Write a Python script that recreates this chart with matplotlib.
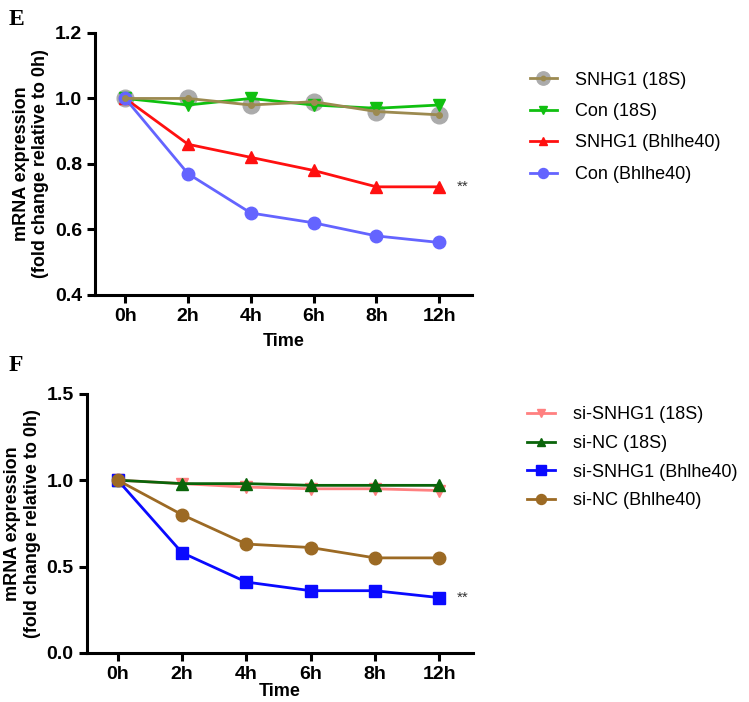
import matplotlib
matplotlib.use("Agg")
import matplotlib.pyplot as plt

plt.rcParams['font.family'] = ['Liberation Sans', 'DejaVu Sans']

# Time points
times = ["0h", "2h", "4h", "6h", "8h", "12h"]

# Panel E values
e_snhg1_18s = [1.00, 1.00, 0.98, 0.99, 0.96, 0.95]
e_con_18s = [1.00, 0.98, 1.00, 0.98, 0.97, 0.98]
e_snhg1_bhlhe40 = [1.00, 0.86, 0.82, 0.78, 0.73, 0.73]
e_con_bhlhe40 = [1.00, 0.77, 0.65, 0.62, 0.58, 0.56]

# Panel F values
f_sisnhg1_18s = [1.00, 0.98, 0.96, 0.95, 0.95, 0.94]
f_sinc_18s = [1.00, 0.98, 0.98, 0.97, 0.97, 0.97]
f_sisnhg1_bhlhe40 = [1.00, 0.58, 0.41, 0.36, 0.36, 0.32]
f_sinc_bhlhe40 = [1.00, 0.80, 0.63, 0.61, 0.55, 0.55]

fig = plt.figure(figsize=(7.49, 7.02), dpi=100)
x = list(range(len(times)))


def style_axes(ax, ylim, yticks):
    ax.set_xlim(-0.48, 5.52)
    ax.set_ylim(*ylim)
    ax.set_yticks(yticks)
    ax.set_yticklabels([f"{t:.1f}" for t in yticks])
    ax.set_xticks(x)
    ax.set_xticklabels(times)
    for s in ["top", "right"]:
        ax.spines[s].set_visible(False)
    for s in ["left", "bottom"]:
        ax.spines[s].set_linewidth(2.2)
    ax.tick_params(width=2.2, length=6, labelsize=14)
    for lab in ax.get_xticklabels() + ax.get_yticklabels():
        lab.set_fontweight("bold")
    ax.set_ylabel("mRNA expression\n(fold change relative to 0h)",
                  fontsize=13, fontweight="bold", labelpad=4)


# Panel E
ax1 = fig.add_axes([0.127, 0.580, 0.503, 0.373])
g_mk, = ax1.plot(x, e_snhg1_18s, ls="none", marker="o", ms=12,
                 mfc="#ABABAB", mec="#ABABAB", zorder=2)
g_ln, = ax1.plot(x, e_snhg1_18s, color="#9C8A50", lw=2, marker="o", ms=4,
                 mfc="#9C8A50", mec="#9C8A50", zorder=3)
h2, = ax1.plot(x, e_con_18s, color="#10C010", lw=2, marker="v", ms=8)
h3, = ax1.plot(x, e_snhg1_bhlhe40, color="#FF1010", lw=2, marker="^", ms=8)
h4, = ax1.plot(x, e_con_bhlhe40, color="#6464FF", lw=2, marker="o", ms=9)
style_axes(ax1, (0.4, 1.2), [0.4, 0.6, 0.8, 1.0, 1.2])
ax1.set_xlabel("Time", fontsize=13, fontweight="bold", labelpad=6)
ax1.text(5.28, e_snhg1_bhlhe40[-1], "**", fontsize=11, va="center",
         color="#333333")
ax1.legend([(g_mk, g_ln), h2, h3, h4],
           ["SNHG1 (18S)", "Con (18S)", "SNHG1 (Bhlhe40)", "Con (Bhlhe40)"],
           loc="upper left", bbox_to_anchor=(1.11, 0.915), frameon=False,
           fontsize=13, handlelength=1.5, handletextpad=1.0,
           labelspacing=0.8, markerscale=0.8)
fig.text(0.012, 0.972, "E", fontsize=17, fontweight="bold",
         family="Liberation Serif", va="center")

# Panel F
ax2 = fig.add_axes([0.116, 0.070, 0.515, 0.369])
ax2.plot(x, f_sisnhg1_18s, color="#FF8080", lw=2, marker="v", ms=8,
         label="si-SNHG1 (18S)")
ax2.plot(x, f_sinc_18s, color="#0A640A", lw=2, marker="^", ms=8,
         label="si-NC (18S)")
ax2.plot(x, f_sisnhg1_bhlhe40, color="#0A0AFF", lw=2, marker="s", ms=9,
         label="si-SNHG1 (Bhlhe40)")
ax2.plot(x, f_sinc_bhlhe40, color="#9C6A24", lw=2, marker="o", ms=9,
         label="si-NC (Bhlhe40)")
style_axes(ax2, (0.0, 1.5), [0.0, 0.5, 1.0, 1.5])
ax2.set_xlabel("Time", fontsize=13, fontweight="bold", labelpad=0)
ax2.text(5.28, f_sisnhg1_bhlhe40[-1], "**", fontsize=11, va="center",
         color="#333333")
ax2.legend(loc="upper left", bbox_to_anchor=(1.10, 1.015), frameon=False,
           fontsize=13, handlelength=1.5, handletextpad=1.0,
           labelspacing=0.65, markerscale=0.8)
fig.text(0.012, 0.48, "F", fontsize=17, fontweight="bold",
         family="Liberation Serif", va="center")

fig.savefig("out.png", dpi=100)
